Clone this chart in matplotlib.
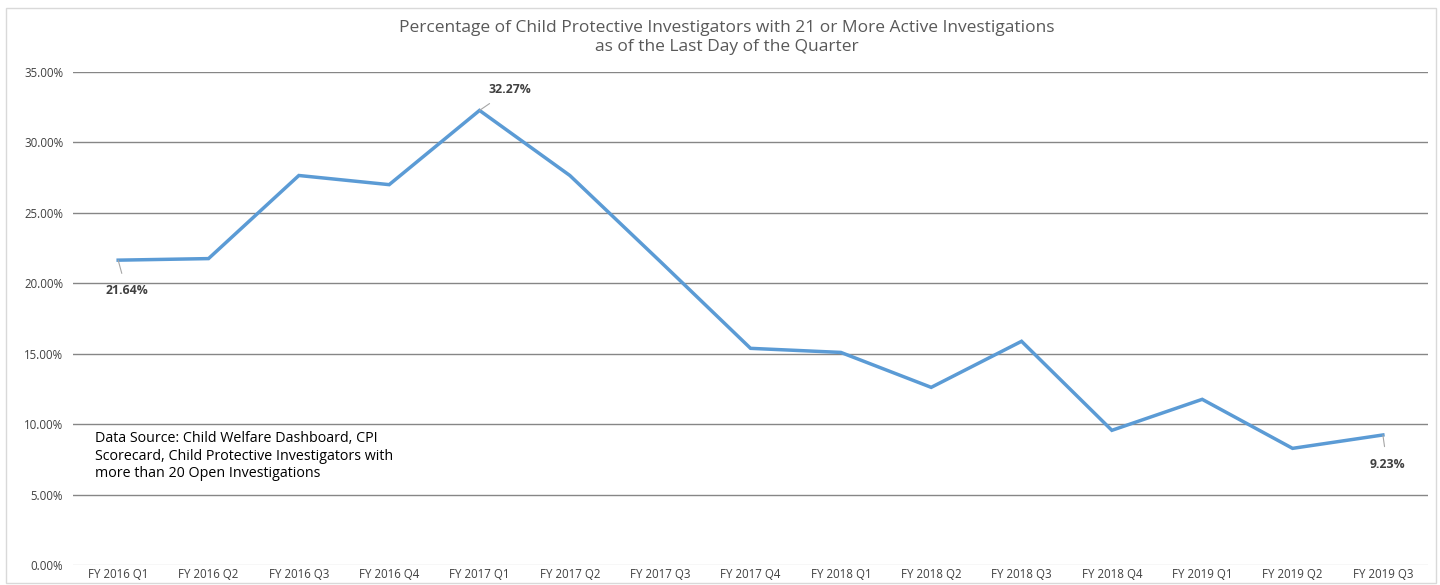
import matplotlib.pyplot as plt
from matplotlib.patches import Rectangle
from matplotlib.ticker import FuncFormatter

# quarter labels and values (percent)
quarters = ["FY 2016 Q1", "FY 2016 Q2", "FY 2016 Q3", "FY 2016 Q4",
            "FY 2017 Q1", "FY 2017 Q2", "FY 2017 Q3", "FY 2017 Q4",
            "FY 2018 Q1", "FY 2018 Q2", "FY 2018 Q3", "FY 2018 Q4",
            "FY 2019 Q1", "FY 2019 Q2", "FY 2019 Q3"]
pct = [21.64, 21.75, 27.65, 27.0, 32.27, 27.65, 21.55, 15.38,
       15.09, 12.61, 15.88, 9.56, 11.76, 8.28, 9.23]

# which points get a label, and the label offset in points
labelled = {0: (6, -22), 4: (22, 15), 14: (3, -21)}

plt.rcParams['font.family'] = ['Open Sans', 'DejaVu Sans']

fig = plt.figure(figsize=(14.4, 5.85), dpi=100)
ax = fig.add_axes([0.0507, 0.0342, 0.941, 0.8428])

# outer chart border
fig.patches.append(Rectangle((0.004, 0.004), 0.993, 0.982, transform=fig.transFigure,
                             fill=False, edgecolor='#d9d9d9', linewidth=1))

x = list(range(len(quarters)))
ax.plot(x, pct, color='#5b9bd5', linewidth=2.5, solid_joinstyle='miter', zorder=3)

ax.set_xlim(-0.5, len(quarters) - 0.5)
ax.set_ylim(0, 35)
ax.set_yticks(range(0, 36, 5))
ax.yaxis.set_major_formatter(FuncFormatter(lambda v, p: f"{v:.2f}%"))
ax.set_xticks(x)
ax.set_xticklabels(quarters)

for yv in range(5, 36, 5):
    ax.axhline(yv, color='#868686', linewidth=1, zorder=1)
ax.axhline(0, color='#d9d9d9', linewidth=1, zorder=1)

for s in ax.spines.values():
    s.set_visible(False)
ax.tick_params(axis='both', length=0, labelsize=8.3, colors='#404040')
ax.tick_params(axis='y', pad=7)
ax.tick_params(axis='x', pad=2)

for i, (dx, dy) in labelled.items():
    ax.annotate(f"{pct[i]:.2f}%", xy=(i, pct[i]), xytext=(dx, dy),
                textcoords='offset points', ha='center', va='center',
                fontsize=8.8, fontweight='bold', color='#404040',
                arrowprops=dict(arrowstyle='-', color='#a6a6a6', lw=0.8,
                                shrinkA=6, shrinkB=0))

fig.text(0.505, 0.936, "Percentage of Child Protective Investigators with 21 or More Active Investigations\n"
         "as of the Last Day of the Quarter", ha='center', va='center',
         fontsize=12.5, color='#595959', linespacing=1.3)

ax.text(0.016, 0.221, "Data Source: Child Welfare Dashboard, CPI\n"
        "Scorecard, Child Protective Investigators with\n"
        "more than 20 Open Investigations", transform=ax.transAxes,
        ha='left', va='center', fontsize=10.3, color='black', linespacing=1.2)

fig.savefig("out.png", dpi=100)
